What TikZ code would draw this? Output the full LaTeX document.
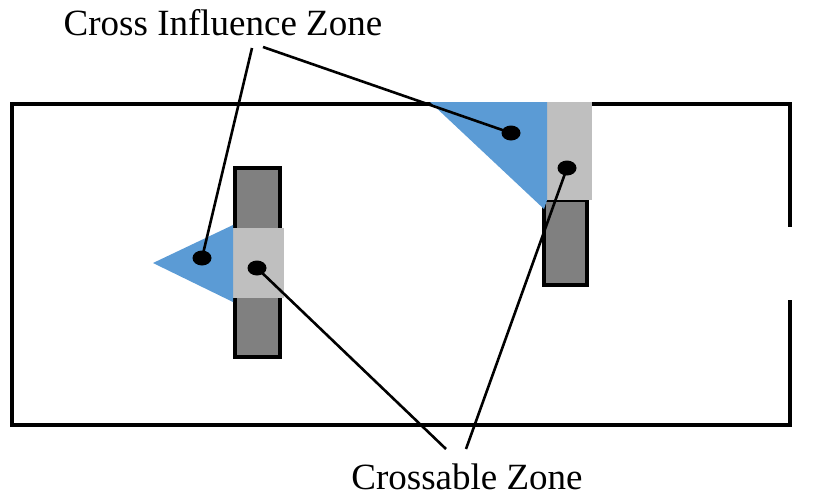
\documentclass[tikz,border=0pt]{standalone}
\usepackage{fontspec}
\setmainfont{Liberation Serif}
\usetikzlibrary{shapes.geometric}
\definecolor{zoneblue}{RGB}{91,155,213}
\definecolor{crossgray}{RGB}{191,191,191}
\definecolor{bardark}{RGB}{128,128,128}
\tikzset{
  frame/.style={draw=black,line width=4pt},
  barbox/.style={draw=black,line width=4.5pt,fill=bardark},
  influence/.style={fill=zoneblue},
  crossable/.style={fill=crossgray},
  marker/.style={ellipse,fill=black,minimum width=19pt,minimum height=15pt,inner sep=0pt},
  leader/.style={draw=black,line width=2.6pt},
  caption/.style={font=\fontsize{37}{40}\selectfont,inner sep=0pt,text depth=0pt,anchor=base}
}
\begin{document}
\begin{tikzpicture}[x=1pt,y=-1pt]
\useasboundingbox (0,0) rectangle (838,499);
% field outline with an opening on the right side
\draw[frame] (12,104) rectangle (790,425);
\fill[white] (755,227) rectangle (838,300);
% left barrier and its zones
\draw[barbox] (235,168) rectangle (280,357);
\fill[crossable] (232,228) rectangle (284,298);
\fill[influence] (153,263) -- (233,225) -- (233,302) -- cycle;
% right barrier and its zones
\draw[barbox] (544,200) rectangle (587,285);
\fill[crossable] (547,102) rectangle (592,200);
\fill[influence] (430,102) -- (547,102) -- (547,200) -- (544,209) -- cycle;
% zone markers
\node[marker] (ciL) at (202,258) {};
\node[marker] (czL) at (257,268) {};
\node[marker] (ciR) at (511,133) {};
\node[marker] (czR) at (567,168) {};
% labels
\node[caption] (ci) at (223,35) {Cross Influence Zone};
\node[caption] (cz) at (467,489) {Crossable Zone};
\coordinate (ciA) at (252,48);
\coordinate (ciB) at (263,47);
\coordinate (czA) at (446,449);
\coordinate (czB) at (466,449);
% leader lines
\draw[leader] (ciA) -- (ciL.center);
\draw[leader] (ciB) -- (ciR.center);
\draw[leader] (czA) -- (czL.center);
\draw[leader] (czB) -- (czR.center);
\end{tikzpicture}
\end{document}
